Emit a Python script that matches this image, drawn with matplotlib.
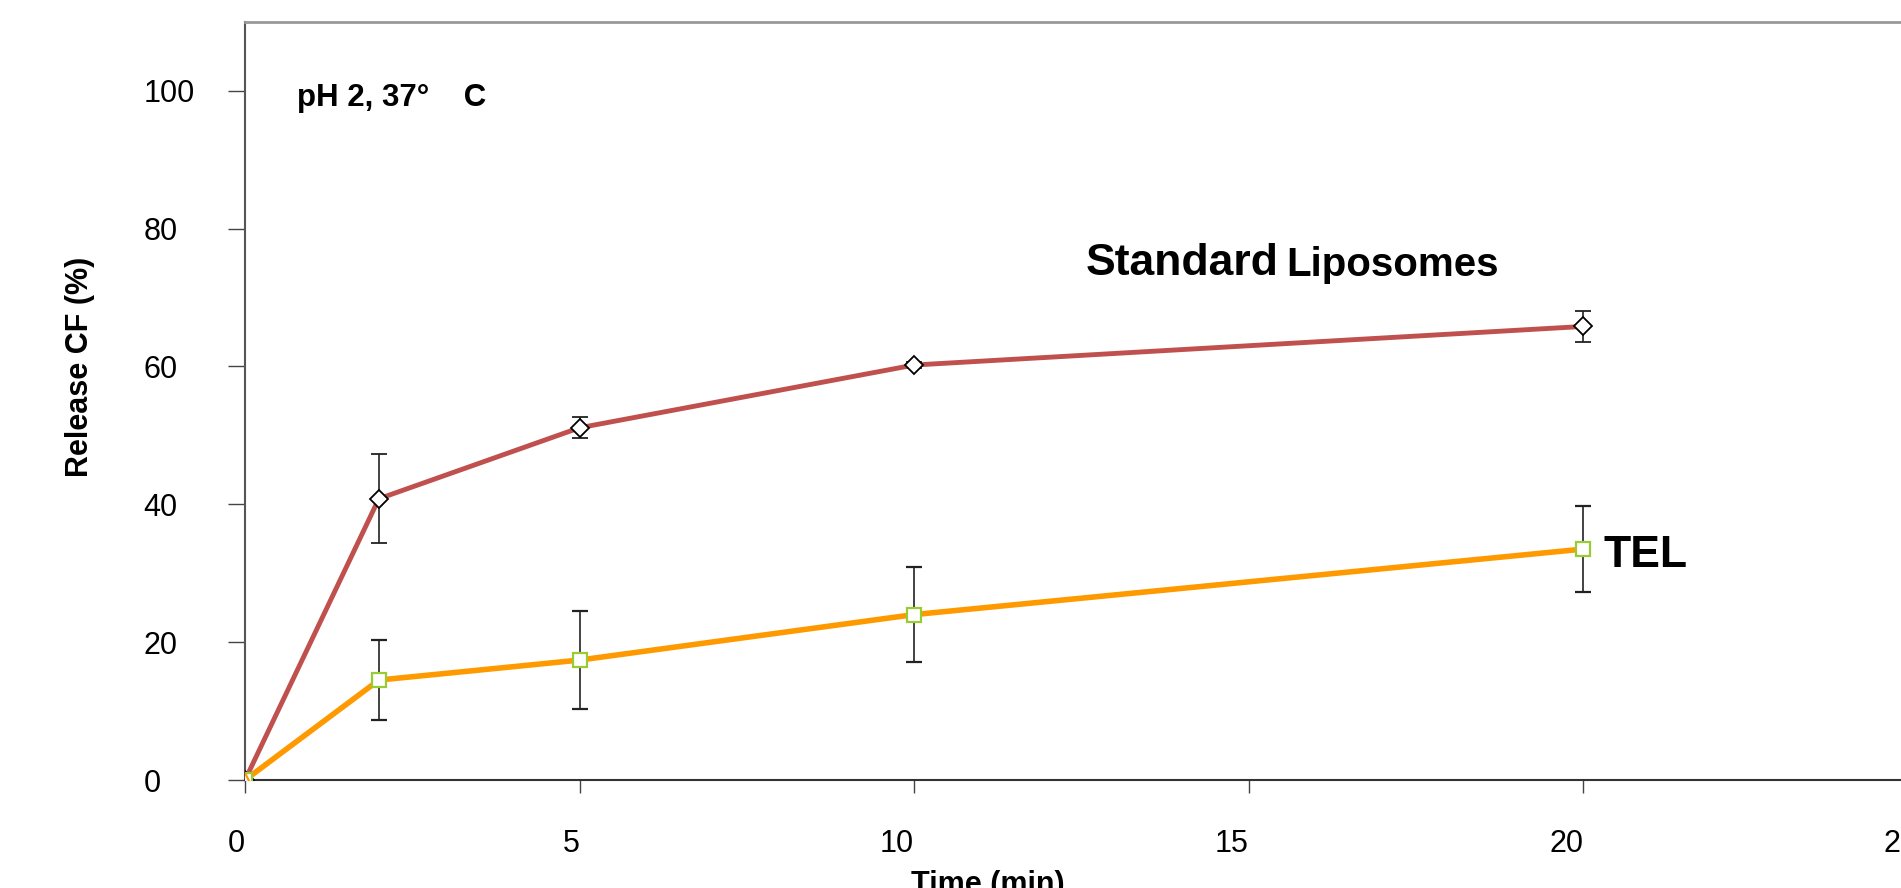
import numpy as np
import matplotlib
matplotlib.use("Agg")
import matplotlib.pyplot as plt

plt.rcParams['font.family'] = ['Liberation Sans', 'DejaVu Sans']

# data
time_min = [0, 2, 5, 10, 20]
std_release = [0, 40.8, 51.1, 60.2, 65.8]
std_err = [0, 6.45, 1.5, 0.5, 2.3]
tel_release = [0, 14.5, 17.4, 24.0, 33.5]
tel_err = [0, 5.8, 7.1, 6.9, 6.2]
start_time = [0]
start_release = [0]

x_ticks = [0, 5, 10, 15, 20, 25]
y_ticks = [0, 20, 40, 60, 80, 100]

fig = plt.figure(figsize=(19.01, 8.88), dpi=100)
ax = fig.add_axes([0.1289, 0.1216, 0.8798, 0.8539])

ax.errorbar(time_min, std_release, yerr=std_err, color='#C0504D', lw=3.5,
            marker='D', ms=9.5, mfc='white', mec='black', mew=1.3,
            ecolor='#222222', elinewidth=1.2, capsize=6, capthick=1.2, zorder=3)
ax.errorbar(time_min, tel_release, yerr=tel_err, color='#FF9900', lw=4,
            marker='s', ms=10.5, mfc='white', mec='#99CC33', mew=1.6,
            ecolor='#222222', elinewidth=1.2, capsize=6, capthick=1.2, zorder=4)
ax.plot(start_time, start_release, ls='none', marker='^', ms=10, mfc='white',
        mec='#FF9900', mew=1.6, zorder=5)

ax.set_xlim(0, 25)
ax.set_ylim(0, 110)
ax.set_xticks(x_ticks)
ax.set_yticks(y_ticks)

ax.spines['left'].set_color('#555555')
ax.spines['top'].set_color('#999999')
ax.spines['bottom'].set_color('#333333')
ax.spines['right'].set_visible(False)
ax.spines['top'].set_linewidth(2)
for s in ['left', 'bottom']:
    ax.spines[s].set_linewidth(1.5)

ax.tick_params(axis='both', direction='out', width=1, color='#444444', labelsize=22)
ax.tick_params(axis='y', length=12, pad=61)
ax.tick_params(axis='x', length=9, pad=26)
for lab in ax.get_yticklabels():
    lab.set_horizontalalignment('left')
for lab in ax.get_xticklabels():
    lab.set_horizontalalignment('right')

ax.set_ylabel('Release CF (%)', fontsize=22, fontweight='bold', va='center')
ax.yaxis.set_label_coords(-0.0987, 0.545)
ax.set_xlabel('Time (min)', fontsize=22, fontweight='bold')
ax.xaxis.set_label_coords(0.444, -0.119)

ax.text(0.78, 97.8, 'pH 2, 37°    C', fontsize=22.5, fontweight='bold', va='baseline')
std_txt = ax.text(12.56, 73.2, 'Standard', fontsize=32, fontweight='bold',
                  va='baseline')
ax.annotate('Liposomes', xy=(1, 0), xycoords=std_txt, xytext=(6, 0),
            textcoords='offset points', fontsize=29, fontweight='bold',
            va='bottom')
ax.text(20.3, 32.5, 'TEL', fontsize=32, fontweight='bold', va='center')

fig.savefig('out.png', dpi=100)
